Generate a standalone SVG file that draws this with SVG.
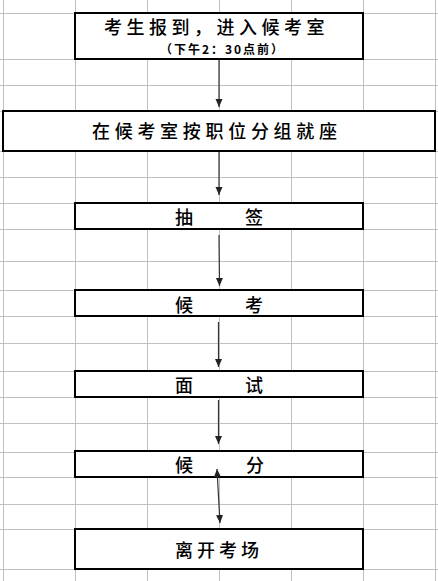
<svg xmlns="http://www.w3.org/2000/svg" width="438" height="581" viewBox="0 0 438 581">
<defs>
<style>
.grid line{stroke:#c0c0c0;stroke-width:1}
.box{fill:#fff;stroke:#000;stroke-width:2}
.t{font-family:"Noto Sans CJK SC","Noto Sans CJK JP",sans-serif;font-size:18px;font-weight:500;fill:#000}
.s{font-family:"Noto Sans CJK SC",sans-serif;font-size:12px;font-weight:bold;fill:#000}
.conn line{stroke:#333;stroke-width:1.2}
</style>
<marker id="ah" viewBox="0 0 8 8" refX="8" refY="4" markerWidth="8" markerHeight="8" markerUnits="userSpaceOnUse" orient="auto-start-reverse">
<path d="M0,0.5 L8,4 L0,7.5 z" fill="#222"/>
</marker>
</defs>
<rect width="438" height="581" fill="#fff"/>
<g class="grid">
<line x1="3.5" y1="0" x2="3.5" y2="581"/>
<line x1="75.5" y1="0" x2="75.5" y2="581"/>
<line x1="147.5" y1="0" x2="147.5" y2="581"/>
<line x1="219.5" y1="0" x2="219.5" y2="581"/>
<line x1="291.5" y1="0" x2="291.5" y2="581"/>
<line x1="363.5" y1="0" x2="363.5" y2="581"/>
<line x1="435.5" y1="0" x2="435.5" y2="581"/>
<line x1="0" y1="13.5" x2="438" y2="13.5"/>
<line x1="0" y1="59.5" x2="438" y2="59.5"/>
<line x1="0" y1="85.5" x2="438" y2="85.5"/>
<line x1="0" y1="111.5" x2="438" y2="111.5"/>
<line x1="0" y1="151.5" x2="438" y2="151.5"/>
<line x1="0" y1="177.5" x2="438" y2="177.5"/>
<line x1="0" y1="203.5" x2="438" y2="203.5"/>
<line x1="0" y1="229.5" x2="438" y2="229.5"/>
<line x1="0" y1="261.5" x2="438" y2="261.5"/>
<line x1="0" y1="290.5" x2="438" y2="290.5"/>
<line x1="0" y1="316.5" x2="438" y2="316.5"/>
<line x1="0" y1="343.5" x2="438" y2="343.5"/>
<line x1="0" y1="371.5" x2="438" y2="371.5"/>
<line x1="0" y1="397.5" x2="438" y2="397.5"/>
<line x1="0" y1="423.5" x2="438" y2="423.5"/>
<line x1="0" y1="452.5" x2="438" y2="452.5"/>
<line x1="0" y1="477.5" x2="438" y2="477.5"/>
<line x1="0" y1="504.5" x2="438" y2="504.5"/>
<line x1="0" y1="529.5" x2="438" y2="529.5"/>
<line x1="0" y1="569.5" x2="438" y2="569.5"/>
</g>
<g id="n1">
<rect class="box" x="75" y="13" width="288" height="46"/>
<text class="t" x="104" y="34" letter-spacing="4.5">考生报到，进入候考室</text>
<text class="s" x="160" y="54" textLength="123" lengthAdjust="spacing">（下午2：30点前）</text>
</g>
<g id="n2">
<rect class="box" x="3" y="111" width="432" height="40"/>
<text class="t" x="92" y="138" letter-spacing="4.7">在候考室按职位分组就座</text>
</g>
<g id="n3">
<rect class="box" x="75" y="203" width="288" height="26"/>
<text class="t" y="224"><tspan x="175">抽</tspan><tspan x="245">签</tspan></text>
</g>
<g id="n4">
<rect class="box" x="75" y="290" width="288" height="26"/>
<text class="t" y="312"><tspan x="175">候</tspan><tspan x="245">考</tspan></text>
</g>
<g id="n5">
<rect class="box" x="75" y="371" width="288" height="26"/>
<text class="t" y="392"><tspan x="175">面</tspan><tspan x="245">试</tspan></text>
</g>
<g id="n6">
<rect class="box" x="75" y="451" width="288" height="26"/>
<text class="t" y="472"><tspan x="175">候</tspan><tspan x="246">分</tspan></text>
</g>
<g id="n7">
<rect class="box" x="75" y="529" width="288" height="40"/>
<text class="t" x="175" y="557" letter-spacing="4">离开考场</text>
</g>
<g class="conn">
<line x1="219" y1="60" x2="219" y2="107" marker-end="url(#ah)"/>
<line x1="219" y1="152" x2="219" y2="195" marker-end="url(#ah)"/>
<line x1="219" y1="235" x2="219.5" y2="286" marker-end="url(#ah)"/>
<line x1="218.5" y1="322" x2="218.5" y2="367" marker-end="url(#ah)"/>
<line x1="218.5" y1="400" x2="218.5" y2="444" marker-end="url(#ah)"/>
<line x1="217" y1="469" x2="220" y2="523" marker-start="url(#ah)" marker-end="url(#ah)"/>
</g>
</svg>
